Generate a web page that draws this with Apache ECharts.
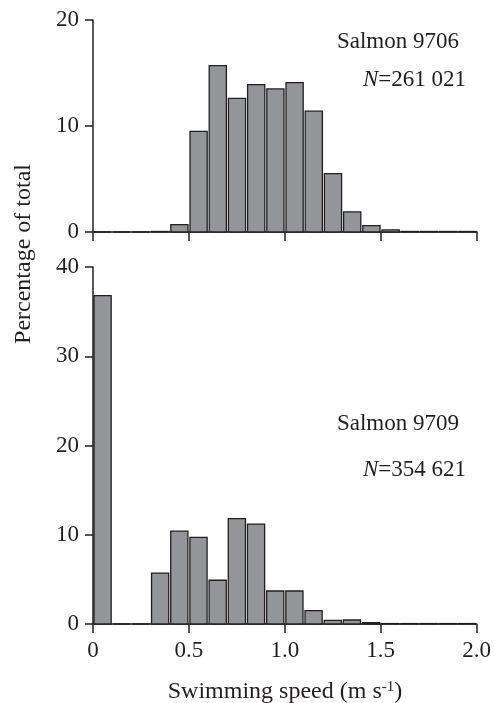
<!DOCTYPE html>
<html>
<head>
<meta charset="utf-8">
<script src="https://cdn.jsdelivr.net/npm/echarts@6/dist/echarts.min.js"></script>
<style>
  html, body { margin: 0; padding: 0; background: #fff; }
  #chart { width: 494px; height: 703px; }
</style>
</head>
<body>
<div id="chart"></div>
<script>
// bin edges (m s-1), 0.1 wide
const binStarts = [0, 0.1, 0.2, 0.3, 0.4, 0.5, 0.6, 0.7, 0.8, 0.9, 1.0, 1.1, 1.2, 1.3, 1.4, 1.5, 1.6, 1.7, 1.8, 1.9];
const salmon9706 = [0, 0, 0, 0.05, 0.7, 9.5, 15.7, 12.6, 13.9, 13.5, 14.1, 11.4, 5.5, 1.9, 0.6, 0.2, 0.05, 0.05, 0.05, 0.05];
const salmon9709 = [36.8, 0, 0, 5.7, 10.4, 9.7, 4.9, 11.8, 11.2, 3.7, 3.7, 1.5, 0.4, 0.45, 0.15, 0.05, 0.05, 0.05, 0.05, 0.05];
const xTicks = [0, 0.5, 1.0, 1.5, 2.0];

const ink = '#231f20';
const fill = '#939598';
const font = 'Liberation Serif';

function toBins(values) {
    return values.map((v, i) => [binStarts[i], +(binStarts[i] + 0.1).toFixed(1), v]);
}

function renderBar(params, api) {
    let p0 = api.coord([api.value(0), api.value(2)]);
    let p1 = api.coord([api.value(1), 0]);
    return {
        type: 'rect',
        shape: { x: p0[0] + 1, y: p0[1], width: p1[0] - p0[0] - 2, height: p1[1] - p0[1] },
        style: { fill: fill, stroke: ink, lineWidth: 1.3 }
    };
}

function xAxisOpt(gridIndex, showLabels) {
    return {
        gridIndex: gridIndex,
        type: 'value',
        min: 0, max: 2, interval: 0.5,
        axisLine: { lineStyle: { color: ink, width: 1.5 } },
        axisTick: { show: true, inside: false, length: 9, lineStyle: { color: ink, width: 1.5 } },
        axisLabel: {
            show: showLabels, color: ink, fontFamily: font, fontSize: 23, margin: 15,
            formatter: v => (v === 0 ? '0' : v.toFixed(1))
        },
        splitLine: { show: false }
    };
}

function yAxisOpt(gridIndex, max) {
    return {
        gridIndex: gridIndex,
        type: 'value',
        min: 0, max: max, interval: 10,
        axisLine: { show: true, lineStyle: { color: ink, width: 1.5 } },
        axisTick: { show: true, inside: false, length: 8, lineStyle: { color: ink, width: 1.5 } },
        axisLabel: { color: ink, fontFamily: font, fontSize: 23, margin: 14 },
        splitLine: { show: false }
    };
}

function label(x, y, text, align) {
    return {
        type: 'text', x: x, y: y,
        style: {
            text: text, fill: ink, font: '23px "Liberation Serif"',
            textAlign: align || 'right', textVerticalAlign: 'middle',
            rich: { i: { fontStyle: 'italic', fontFamily: font, fontSize: 23, fill: ink } }
        }
    };
}

let myChart = echarts.init(document.getElementById('chart'));
let option = {
    animation: false,
    backgroundColor: '#fff',
    grid: [
        { left: 93, right: 17, top: 20, height: 212 },
        { left: 93, right: 17, top: 267, height: 357 }
    ],
    xAxis: [xAxisOpt(0, false), xAxisOpt(1, true)],
    yAxis: [yAxisOpt(0, 20), yAxisOpt(1, 40)],
    series: [
        { type: 'custom', xAxisIndex: 0, yAxisIndex: 0, renderItem: renderBar, data: toBins(salmon9706), z: 1 },
        { type: 'custom', xAxisIndex: 1, yAxisIndex: 1, renderItem: renderBar, data: toBins(salmon9709), z: 1 }
    ],
    graphic: [
        label(459, 42, 'Salmon 9706'),
        label(466, 80, '{i|N}=261 021'),
        label(459, 424, 'Salmon 9709'),
        label(466, 470, '{i|N}=354 621'),
        {
            type: 'text', x: 24, y: 254, rotation: Math.PI / 2,
            style: {
                text: 'Percentage of total', font: '24px "Liberation Serif"', fill: ink,
                textAlign: 'center', textVerticalAlign: 'middle'
            }
        },
        {
            type: 'text', x: 285, y: 692,
            style: {
                text: 'Swimming speed (m s{sup|-1})', font: '24px "Liberation Serif"', fill: ink,
                textAlign: 'center', textVerticalAlign: 'middle',
                rich: { sup: { fontSize: 15, fontFamily: font, verticalAlign: 'top', padding: [0, 0, 10, 0], fill: ink } }
            }
        }
    ]
};
myChart.setOption(option);
</script>
</body>
</html>
